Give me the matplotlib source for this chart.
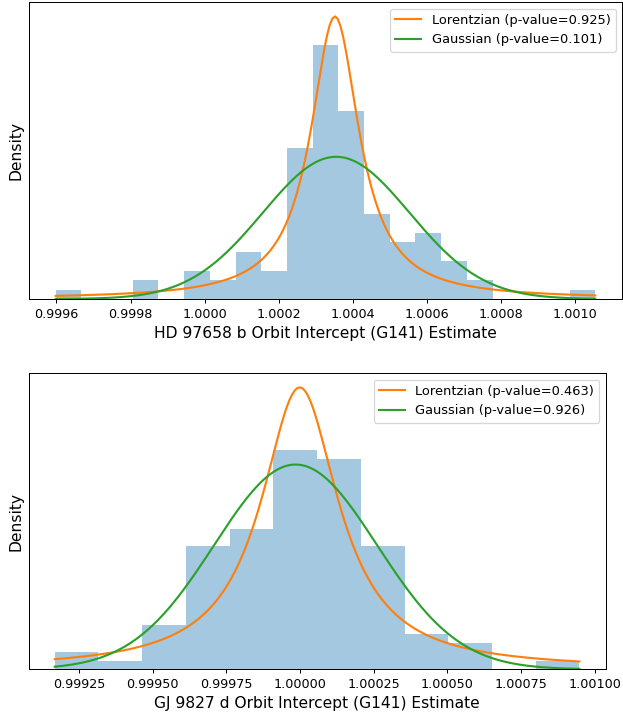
import numpy as np
import matplotlib
matplotlib.use("Agg")
import matplotlib.pyplot as plt

# HD 97658 b histogram (21 equal bins between the data min and max)
hd_range = (0.999598, 1.001054)
hd_counts = [1, 0, 0, 2, 0, 3, 2, 5, 3, 16, 27, 20, 9, 6, 7, 4, 2, 0, 0, 0, 1]
hd_lor = (1.0003515, 7.95e-5)     # loc, gamma
hd_gau = (1.0003547, 1.98e-4)     # mean, sigma
hd_pvals = (0.925, 0.101)

# GJ 9827 d histogram (12 equal bins)
gj_range = (0.9991676, 1.0009484)
gj_counts = [2, 1, 5, 14, 16, 25, 24, 14, 4, 3, 0, 1]
gj_lor = (0.999999, 1.603e-4)
gj_gau = (0.999985, 2.766e-4)
gj_pvals = (0.463, 0.926)


def lorentz(x, loc, gam):
    return gam / (np.pi * ((x - loc)**2 + gam**2))


def gauss(x, mu, sig):
    return np.exp(-0.5 * ((x - mu) / sig)**2) / (sig * np.sqrt(2 * np.pi))


def panel(ax, rng, counts, lor, gau, pvals, name):
    edges = np.linspace(rng[0], rng[1], len(counts) + 1)
    centers = 0.5 * (edges[:-1] + edges[1:])
    ax.hist(centers, bins=edges, weights=counts, density=True,
            color='#1f77b4', alpha=0.4)
    xs = np.linspace(rng[0], rng[1], 200)
    ax.plot(xs, lorentz(xs, *lor), color='#ff7f0e', lw=1.7,
            label='Lorentzian (p-value=%.3f)' % pvals[0])
    ax.plot(xs, gauss(xs, *gau), color='#2ca02c', lw=1.7,
            label='Gaussian (p-value=%.3f)' % pvals[1])
    ax.set_yticks([])
    ax.set_ylabel('Density', fontsize=12.4)
    ax.set_xlabel('%s Orbit Intercept (G141) Estimate' % name, fontsize=12.4)
    ax.ticklabel_format(axis='x', useOffset=False)
    ax.tick_params(axis='x', labelsize=10.2)
    ax.legend(loc='upper right', fontsize=10.4)


def main():
    W, H = 623.0, 713.0
    fig = plt.figure(figsize=(W / 90, H / 90), dpi=90)
    ax1 = fig.add_axes([28.7 / W, (H - 299.0) / H, 593.6 / W, 296.7 / H])
    ax2 = fig.add_axes([28.5 / W, (H - 669.3) / H, 577.2 / W, 296.0 / H])
    panel(ax1, hd_range, hd_counts, hd_lor, hd_gau, hd_pvals, 'HD 97658 b')
    panel(ax2, gj_range, gj_counts, gj_lor, gj_gau, gj_pvals, 'GJ 9827 d')
    fig.savefig('out.png', dpi=90)


if __name__ == "__main__":
    main()
